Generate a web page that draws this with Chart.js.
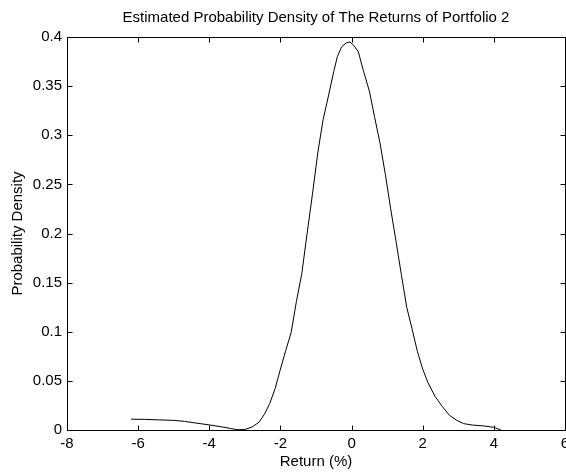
<!DOCTYPE html>
<html>
<head>
<meta charset="utf-8">
<script src="https://cdn.jsdelivr.net/npm/chart.js@4"></script>
<style>
  html, body { margin: 0; padding: 0; background: #fff; }
  canvas { display: block; }
</style>
</head>
<body>
<canvas id="chart" width="566" height="472"></canvas>
<script>
// 数据
const returnPct = [-6.2, -5.8, -5.4, -5.0, -4.7, -4.4, -4.0, -3.7, -3.4, -3.2, -3.0, -2.8, -2.6, -2.45, -2.3,
  -2.15, -2.0, -1.85, -1.7, -1.55, -1.4, -1.25, -1.1, -0.95, -0.8, -0.65, -0.5, -0.4, -0.28, -0.15,
  -0.05, 0.05, 0.19, 0.33, 0.5, 0.65, 0.8, 0.95, 1.1, 1.25, 1.4, 1.55, 1.7, 1.85, 2.0,
  2.15, 2.35, 2.55, 2.75, 2.95, 3.15, 3.4, 3.7, 4.0, 4.2];
const density = [0.011, 0.0108, 0.0103, 0.0098, 0.0088, 0.0072, 0.0052, 0.0035, 0.0015, 0.0003, 0.0005, 0.003, 0.008, 0.016, 0.027,
  0.042, 0.062, 0.081, 0.099, 0.131, 0.159, 0.200, 0.240, 0.282, 0.316, 0.340, 0.365, 0.380, 0.390, 0.394,
  0.395, 0.392, 0.385, 0.366, 0.345, 0.318, 0.292, 0.260, 0.225, 0.192, 0.158, 0.125, 0.103, 0.080, 0.062,
  0.048, 0.034, 0.024, 0.015, 0.010, 0.0065, 0.005, 0.0042, 0.0027, 0.0];

// 刻度
const xTicks = [-8, -6, -4, -2, 0, 2, 4, 6];
const xTickLabels = ['-8', '-6', '-4', '-2', '0', '2', '4', '6'];
const yTicks = [0, 0.05, 0.1, 0.15, 0.2, 0.25, 0.3, 0.35, 0.4];
const yTickLabels = ['0', '0.05', '0.1', '0.15', '0.2', '0.25', '0.3', '0.35', '0.4'];

const FONT = 'Liberation Sans, Arial, Helvetica, sans-serif';
Chart.defaults.color = '#000';
Chart.defaults.font.family = FONT;
Chart.defaults.font.size = 15;

// MATLAB风格的边框和向内刻度
const boxTicks = {
  id: 'boxTicks',
  afterDraw(chart) {
    const { ctx, chartArea: a, scales } = chart;
    const L = Math.round(a.left) + 0.5, R = Math.round(a.right) + 0.5;
    const T = Math.round(a.top) + 0.5, B = Math.round(a.bottom) + 0.5;
    const len = 5;
    ctx.save();
    ctx.strokeStyle = '#000';
    ctx.lineWidth = 1;
    ctx.beginPath();
    ctx.rect(L, T, R - L, B - T);
    xTicks.forEach(v => {
      const px = Math.round(scales.x.getPixelForValue(v)) + 0.5;
      ctx.moveTo(px, B); ctx.lineTo(px, B - len);
      ctx.moveTo(px, T); ctx.lineTo(px, T + len);
    });
    yTicks.forEach(v => {
      const py = Math.round(scales.y.getPixelForValue(v)) + 0.5;
      ctx.moveTo(L, py); ctx.lineTo(L + len, py);
      ctx.moveTo(R, py); ctx.lineTo(R - len, py);
    });
    ctx.stroke();
    ctx.restore();
  }
};

const points = returnPct.map((x, i) => ({ x: x, y: density[i] }));

new Chart(document.getElementById('chart'), {
  type: 'line',
  data: {
    datasets: [{
      data: points,
      borderColor: '#000',
      borderWidth: 1,
      pointRadius: 0,
      tension: 0,
      fill: false
    }]
  },
  options: {
    responsive: false,
    animation: false,
    devicePixelRatio: 1,
    layout: { padding: { left: 0, right: 1, top: 0, bottom: 0 } },
    plugins: {
      legend: { display: false },
      tooltip: { enabled: false },
      title: {
        display: true,
        fullSize: false,
        text: 'Estimated Probability Density of The Returns of Portfolio 2',
        font: { size: 15, weight: 'normal' },
        color: '#000',
        padding: { top: 9, bottom: 10 }
      }
    },
    scales: {
      x: {
        type: 'linear',
        min: -8,
        max: 6,
        grid: { display: false, drawTicks: false },
        border: { display: false },
        afterBuildTicks: s => { s.ticks = xTicks.map(v => ({ value: v })); },
        afterFit: s => { s.height = 42; s.paddingLeft = 0; s.paddingRight = 0; },
        ticks: {
          padding: 5,
          maxRotation: 0,
          autoSkip: false,
          callback: (v, i) => xTickLabels[i]
        },
        title: {
          display: true,
          text: 'Return (%)',
          font: { size: 15 },
          padding: { top: 0, bottom: 1 }
        }
      },
      y: {
        type: 'linear',
        min: 0,
        max: 0.4,
        grid: { display: false, drawTicks: false },
        border: { display: false },
        afterBuildTicks: s => { s.ticks = yTicks.map(v => ({ value: v })); },
        afterFit: s => { s.width = 67; s.paddingTop = 0; s.paddingBottom = 0; },
        ticks: {
          padding: 5,
          autoSkip: false,
          callback: (v, i) => yTickLabels[i]
        },
        title: {
          display: true,
          text: 'Probability Density',
          font: { size: 15 },
          padding: { top: 9, bottom: 0 }
        }
      }
    }
  },
  plugins: [boxTicks]
});
</script>
</body>
</html>
